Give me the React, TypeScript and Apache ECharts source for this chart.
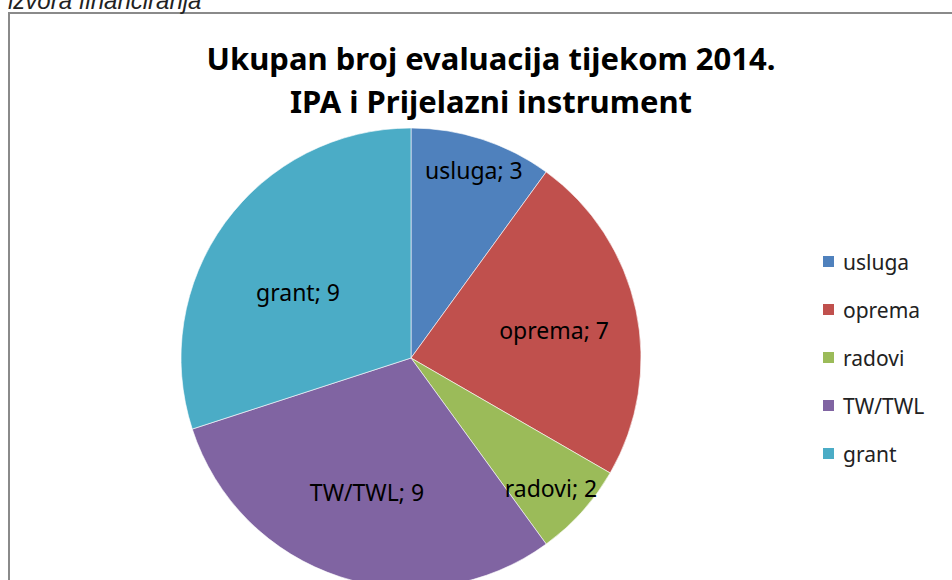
import React, { useEffect, useRef } from "react";
import * as echarts from "echarts";

const categories = ["usluga", "oprema", "radovi", "TW/TWL", "grant"];
const values = [3, 7, 2, 9, 9];
const colors = ["#4F81BD", "#C0504D", "#9BBB59", "#8064A2", "#4BACC6"];
const titleLines = ["Ukupan broj evaluacija tijekom 2014.", "IPA i Prijelazni instrument"];
const captionText = "izvora financiranja";

const CX = 411;
const CY = 358;
const R = 230;
const labelRadius = [0.862, 0.634, 0.831, 0.613, 0.569];
const labelAngleShift = [0.5, 0.9, 0.9, 0.2, -5.7];

export default function App() {
  const ref = useRef<HTMLDivElement>(null);
  useEffect(() => {
    if (!ref.current) return;
    const chart = echarts.init(ref.current, null, { renderer: "svg" });
    const font = "'Noto Sans', sans-serif";
    chart.setOption({
      animation: false,
      backgroundColor: "#ffffff",
      title: {
        text: titleLines.join("\n"),
        left: 486,
        top: 31,
        textAlign: "center",
        textStyle: {
          fontFamily: font,
          fontSize: 31,
          fontWeight: "bold",
          color: "#000000",
          lineHeight: 43,
        },
      },
      legend: {
        orient: "vertical",
        left: 816,
        top: 246,
        itemWidth: 13,
        itemHeight: 13,
        itemGap: 27,
        icon: "rect",
        selectedMode: false,
        textStyle: { fontFamily: font, fontSize: 21, color: "#222222", padding: [0, 0, 0, 3] },
        data: categories,
      },
      graphic: [
        {
          type: "rect",
          shape: { x: 9, y: 13, width: 1000, height: 700 },
          style: { fill: "none", stroke: "#8a8a8a", lineWidth: 2 },
          silent: true,
        },
        {
          type: "text",
          x: 8,
          y: 12,
          style: {
            text: captionText,
            font: "italic 24px 'Liberation Sans', Arial, sans-serif",
            fill: "#222222",
            verticalAlign: "bottom",
          },
          silent: true,
        },
      ],
      series: [
        {
          type: "pie",
          center: [CX, CY],
          radius: R,
          startAngle: 90,
          clockwise: true,
          silent: true,
          itemStyle: { borderColor: "#ffffff", borderWidth: 0.6 },
          label: {
            show: true,
            position: "inside",
            formatter: "{b}; {c}",
            fontFamily: font,
            fontSize: 23,
            color: "#000000",
          },
          labelLayout: (p: any) => {
            const lr = p.labelRect;
            const lx = lr.x + lr.width / 2;
            const ly = lr.y + lr.height / 2;
            const a = Math.atan2(lx - CX, -(ly - CY));
            const t = a + (labelAngleShift[p.dataIndex] * Math.PI) / 180;
            const f = labelRadius[p.dataIndex];
            const tx = CX + f * R * Math.sin(t);
            const ty = CY - f * R * Math.cos(t);
            return { dx: tx - lx, dy: ty - ly };
          },
          data: categories.map((c, i) => ({
            name: c,
            value: values[i],
            itemStyle: { color: colors[i] },
          })),
        },
      ],
    });
    return () => chart.dispose();
  }, []);
  return (
    <div
      ref={ref}
      style={{ position: "absolute", left: 0, top: 0, width: 952, height: 580 }}
    />
  );
}
